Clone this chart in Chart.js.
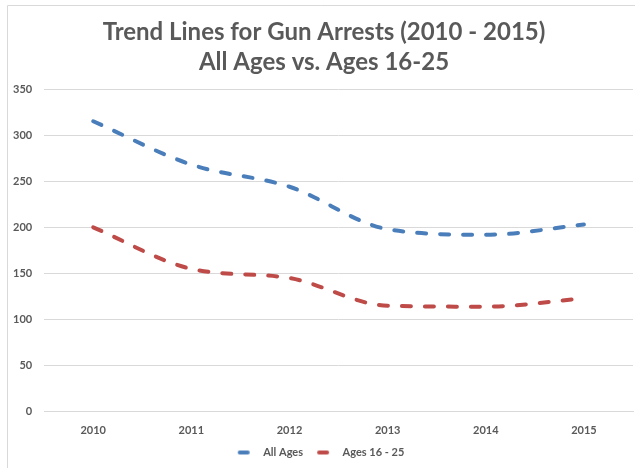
<!DOCTYPE html>
<html lang="en">
<head>
    <meta charset="UTF-8">
    <title>Gun Arrests Trend</title>
    <script src="https://cdn.jsdelivr.net/npm/chart.js@4.4.1/dist/chart.umd.min.js"></script>
    <style>
        html, body { margin: 0; padding: 0; background: #fff; }
        #box { width: 635px; height: 468px; }
    </style>
</head>
<body>
    <div id="box">
        <canvas id="myChart" width="635" height="468"></canvas>
    </div>
    <script>
        // data
        var years = ['2010', '2011', '2012', '2013', '2014', '2015'];
        var allAges = [315, 268, 244, 198, 192, 203];
        var ages1625 = [200, 155, 145, 115, 114, 123];
        var yTicks = [0, 50, 100, 150, 200, 250, 300, 350];
        var titleLines = ['Trend Lines for Gun Arrests (2010 - 2015)', 'All Ages vs. Ages 16-25'];

        var gray = '#595959';
        var gridColor = '#D9D9D9';
        var blue = '#4A7EBB';
        var red = '#BE4B48';

        // short solid line for the legend; blank space on the left keeps items apart
        var f_marker = function(color){
            var c = document.createElement('canvas');
            c.width = 28;
            c.height = 6;
            var g = c.getContext('2d');
            g.strokeStyle = color;
            g.lineWidth = 4;
            g.lineCap = 'round';
            g.beginPath();
            g.moveTo(10, 3);
            g.lineTo(18, 3);
            g.stroke();
            return c;
        };

        var f_set = function(label, data, color){
            return {
                label: label,
                data: data,
                borderColor: color,
                backgroundColor: color,
                borderWidth: 4,
                borderDash: [9, 14],
                borderCapStyle: 'round',
                pointRadius: 0,
                pointStyle: f_marker(color),
                cubicInterpolationMode: 'monotone',
                fill: false
            };
        };

        // frame lines along the top and left edge, title nudged to the right
        var framePlugin = {
            id: 'frame',
            afterLayout: function(chart){
                var tb = chart.titleBlock;
                if (tb) { tb.left += 7; tb.right += 7; }
            },
            beforeDraw: function(chart){
                var ctx = chart.ctx;
                ctx.save();
                ctx.strokeStyle = gridColor;
                ctx.lineWidth = 1;
                ctx.beginPath();
                ctx.moveTo(7.5, 468);
                ctx.lineTo(7.5, 5.5);
                ctx.lineTo(635, 5.5);
                ctx.stroke();
                ctx.restore();
            }
        };

        var ctx = document.getElementById('myChart').getContext('2d');
        var myChart = new Chart(ctx, {
            type: 'line',
            data: {
                labels: years,
                datasets: [
                    f_set('All Ages', allAges, blue),
                    f_set('Ages 16 - 25', ages1625, red)
                ]
            },
            options: {
                responsive: false,
                animation: false,
                layout: { padding: { left: 1, right: 2, top: 8, bottom: 0 } },
                plugins: {
                    title: {
                        display: true,
                        text: titleLines,
                        color: gray,
                        font: { family: 'Lato', size: 24, weight: 'bold', lineHeight: 1.25 },
                        padding: { top: 9, bottom: 12 }
                    },
                    legend: {
                        position: 'bottom',
                        labels: {
                            color: gray,
                            font: { family: 'Lato', size: 11, weight: 'bold' },
                            usePointStyle: true,
                            pointStyleWidth: 28,
                            padding: 6
                        }
                    },
                    tooltip: { enabled: false }
                },
                scales: {
                    x: {
                        offset: true,
                        grid: { display: false },
                        border: { display: true, color: gridColor },
                        ticks: {
                            color: gray,
                            font: { family: 'Lato', size: 11, weight: 'bold' },
                            padding: 4,
                            maxRotation: 0
                        }
                    },
                    y: {
                        min: 0,
                        max: 350,
                        afterBuildTicks: function(axis){
                            axis.ticks = yTicks.map(function(v){ return { value: v }; });
                        },
                        grid: { color: gridColor, drawTicks: false },
                        border: { display: false },
                        ticks: {
                            color: gray,
                            font: { family: 'Lato', size: 11, weight: 'bold' },
                            padding: 12
                        }
                    }
                }
            },
            plugins: [framePlugin]
        });
    </script>
</body>
</html>
